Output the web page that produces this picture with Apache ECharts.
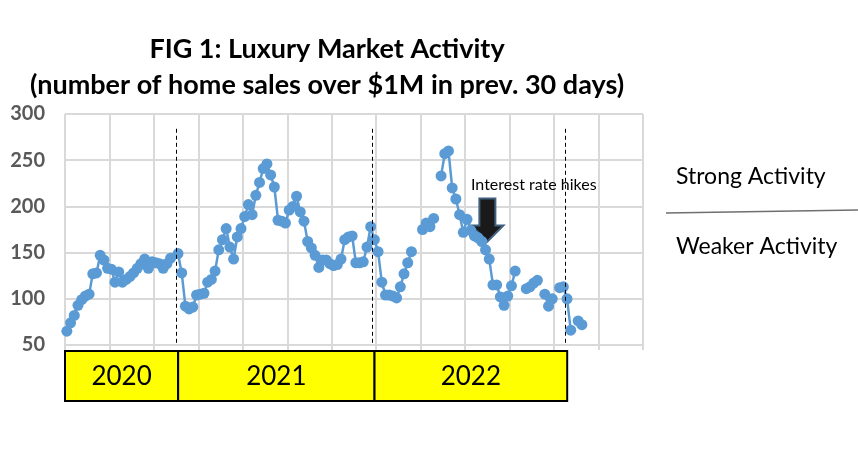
<!DOCTYPE html>
<html>
<head>
<meta charset="utf-8">
<title>FIG 1: Luxury Market Activity</title>
<script src="https://cdn.jsdelivr.net/npm/echarts@6/dist/echarts.min.js"></script>
<style>
    html, body { margin: 0; padding: 0; background: #fff; }
    #chart { width: 858px; height: 472px; }
</style>
</head>
<body>
<div id="chart"></div>
<script>
// home sales over $1M in prev. 30 days, one value per week (null = no data)
var sales2020 = [65, 74, 82, 93, 99, 103, 105, 127, 128, 147,
    142, 133, 132, 118, 129, 118, 121, 124, 128, 133,
    138, 143, 133, 140, 139, 138, 133, 138, 144, null];
var sales2021 = [149, 128, 92, 89, 91, 104, 105, 106, 118, 121,
    130, 153, 164, 176, 156, 143, 167, 176, 189, 202,
    191, 212, 226, 241, 246, 234, 221, 185, 184, 182,
    196, 200, 211, 194, 184, 162, 155, 147, 134, 142,
    142, 138, 136, 137, 143, 164, 167, 168, 139, 139,
    140, 156, 178];
// 2022 and the first weeks of 2023
var sales2022 = [164, 151, 118, 104, 104, 103, 101, 113, 127, 139,
    151, null, null, 175, 182, 178, 187, null, 233, 257,
    260, 220, 208, 191, 172, 186, 174, 168, 166, 162,
    153, 143, 115, 115, 102, 93, 103, 114, 130, null,
    null, 111, 113, 117, 120, null, 105, 92, 100, null,
    112, 113, 100, 66, null, 76, 72];

var yearLabels = ['2020', '2021', '2022'];
var yearStartWeek = [0, 30, 83, 135];   // last entry = end of 2022
var weekCount = 156;
var weekStep = 12;
var yMin = 50, yMax = 300, yStep = 50;

var hikeWeek = 114, hikeValue = 162;     // arrow tip for the rate hikes note

var FONT = 'Lato, "Noto Sans", sans-serif';

var sales = sales2020.concat(sales2021, sales2022);
var points = [];
for (var i = 0, len = sales.length; i < len; i++) {
    points.push([i + 0.5, sales[i] === null ? '-' : sales[i]]);
}

var dashLines = [];
for (var k = 1; k < yearStartWeek.length; k++) {
    dashLines.push([
        {coord: [yearStartWeek[k], 284]},
        {coord: [yearStartWeek[k], yMin]}
    ]);
}

var chart = echarts.init(document.getElementById('chart'));
chart.setOption({
    animation: false,
    title: {
        text: 'FIG 1: Luxury Market Activity\n(number of home sales over $1M in prev. 30 days)',
        left: 322,
        top: 26,
        textAlign: 'center',
        textStyle: {
            fontFamily: FONT,
            fontSize: 27,
            fontWeight: 'bold',
            color: '#000',
            lineHeight: 36
        }
    },
    grid: {
        left: 65,
        right: 215,
        top: 114,
        bottom: 127
    },
    xAxis: {
        type: 'value',
        min: 0,
        max: weekCount,
        interval: weekStep,
        axisLabel: {show: false},
        axisLine: {show: true, lineStyle: {color: '#d9d9d9', width: 2}},
        axisTick: {show: true, length: 5, lineStyle: {color: '#d9d9d9', width: 2}},
        splitLine: {show: true, lineStyle: {color: '#d9d9d9', width: 2}}
    },
    yAxis: {
        type: 'value',
        min: yMin,
        max: yMax,
        interval: yStep,
        axisLine: {show: false},
        axisTick: {show: false},
        axisLabel: {
            margin: 20,
            color: '#595959',
            fontFamily: FONT,
            fontSize: 20,
            fontWeight: 'bold'
        },
        splitLine: {lineStyle: {color: '#d9d9d9', width: 2}}
    },
    series: [{
        type: 'line',
        data: points,
        connectNulls: false,
        symbol: 'circle',
        symbolSize: 11,
        showAllSymbol: true,
        lineStyle: {color: '#5b9bd5', width: 2.5},
        itemStyle: {color: '#5b9bd5'},
        markLine: {
            silent: true,
            symbol: 'none',
            label: {show: false},
            lineStyle: {color: '#000', width: 1, type: [4, 3]},
            data: dashLines
        }
    }]
});

// year boxes under the plot and the side notes
var graphics = [];
for (var j = 0; j < yearLabels.length; j++) {
    var x0 = chart.convertToPixel({gridIndex: 0}, [yearStartWeek[j], yMin])[0];
    var x1 = chart.convertToPixel({gridIndex: 0}, [yearStartWeek[j + 1], yMin])[0];
    if (j > 0) x0 += 2;
    x1 += 2;
    graphics.push({
        type: 'rect',
        shape: {x: x0, y: 351, width: x1 - x0, height: 50},
        style: {fill: '#ffff00', stroke: '#000', lineWidth: 2}
    });
    graphics.push({
        type: 'text',
        x: (x0 + x1) / 2,
        y: 377,
        style: {
            text: yearLabels[j],
            fill: '#000',
            font: '26px ' + FONT,
            align: 'center',
            verticalAlign: 'middle'
        }
    });
}

var tip = chart.convertToPixel({gridIndex: 0}, [hikeWeek, hikeValue]);
graphics.push({
    type: 'polygon',
    shape: {
        points: [
            [tip[0] - 8, tip[1] - 43], [tip[0] + 8, tip[1] - 43],
            [tip[0] + 8, tip[1] - 16], [tip[0] + 16, tip[1] - 16],
            [tip[0], tip[1]], [tip[0] - 16, tip[1] - 16],
            [tip[0] - 8, tip[1] - 16]
        ]
    },
    style: {fill: '#1a1a1a', stroke: '#41607f', lineWidth: 2}
});
graphics.push({
    type: 'text',
    x: 471,
    y: 185,
    style: {
        text: 'Interest rate hikes',
        fill: '#000',
        font: '16px ' + FONT,
        verticalAlign: 'middle'
    }
});
graphics.push({
    type: 'text',
    x: 676,
    y: 177,
    style: {text: 'Strong Activity', fill: '#000', font: '23px ' + FONT, verticalAlign: 'middle'}
});
graphics.push({
    type: 'line',
    shape: {x1: 666, y1: 213, x2: 858, y2: 210},
    style: {stroke: '#6f6f6f', lineWidth: 1.5}
});
graphics.push({
    type: 'text',
    x: 676,
    y: 247,
    style: {text: 'Weaker Activity', fill: '#000', font: '23px ' + FONT, verticalAlign: 'middle'}
});

chart.setOption({graphic: graphics});
</script>
</body>
</html>
